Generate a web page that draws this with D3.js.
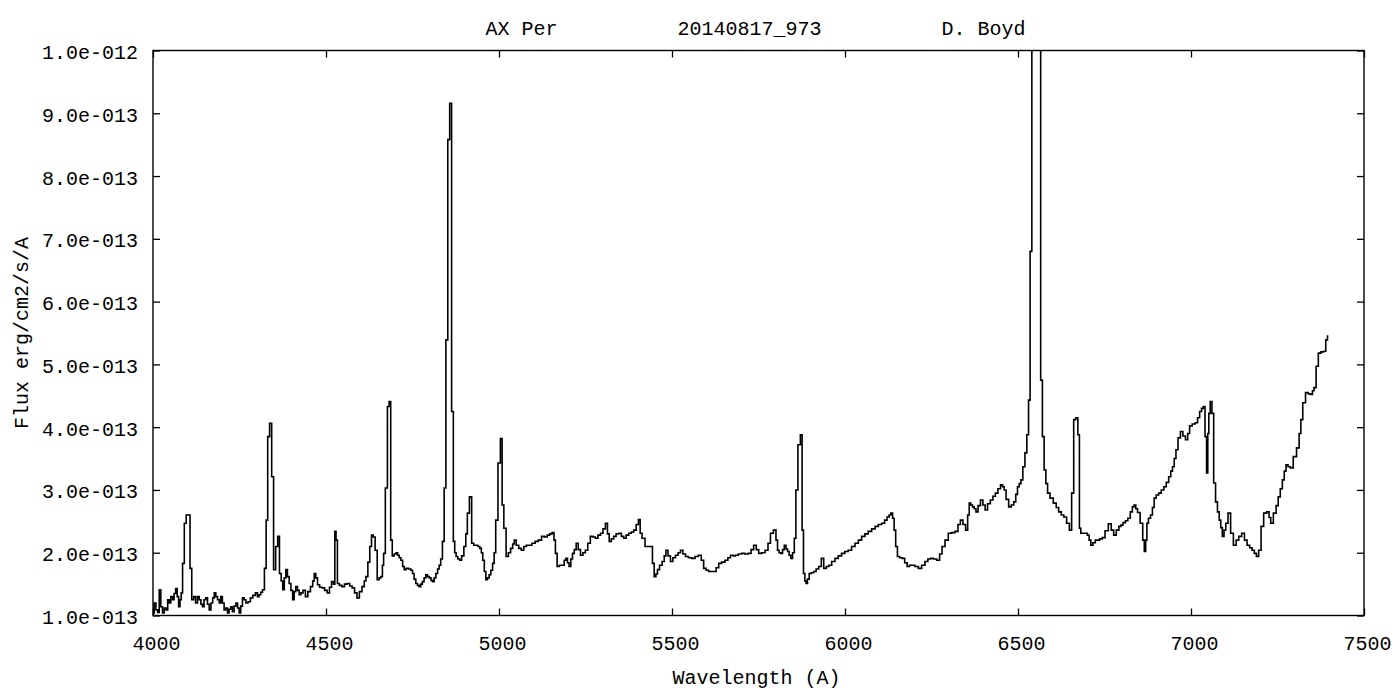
<!DOCTYPE html>
<html>
<head>
<meta charset="utf-8">
<script src="https://cdn.jsdelivr.net/npm/d3@7"></script>
<style>
  html, body { margin: 0; padding: 0; background: #fff; }
  svg { display: block; }
  text { font-family: "Liberation Mono", "DejaVu Sans Mono", monospace; font-size: 20px; fill: #000; }
</style>
</head>
<body>
<svg id="chart" width="1394" height="691"></svg>
<script>
// AX Per spectrum, 2014-08-17 (observer D. Boyd)
// Wavelength in Angstrom, flux in units of 1e-13 erg/cm2/s/A
const wavelength = [
  4001,4006,4011,4016,4020,4025,4030,4035,4040,4045,4049,4054,4059,4063,4068,4072,4076,4080,4083,4088,
  4093,4099,4105,4109,4115,4120,4126,4131,4136,4141,4145,4150,4155,4160,4165,4170,4175,4179,4184,4189,
  4194,4198,4203,4208,4213,4218,4222,4227,4232,4237,4242,4247,4251,4256,4261,4266,4271,4278,4285,4292,
  4300,4304,4309,4314,4319,4325,4329,4334,4340,4346,4351,4358,4363,4368,4373,4377,4382,4386,4391,4396,
  4401,4406,4410,4415,4420,4425,4430,4437,4444,4451,4459,4464,4468,4473,4478,4485,4492,4500,4507,4513,
  4519,4524,4527,4531,4535,4542,4550,4557,4565,4572,4579,4586,4593,4600,4608,4613,4618,4624,4629,4634,
  4639,4645,4651,4656,4661,4665,4668,4675,4680,4685,4689,4694,4700,4705,4709,4714,4719,4724,4728,4735,
  4743,4748,4752,4757,4762,4767,4772,4776,4781,4786,4791,4796,4801,4806,4810,4815,4820,4825,4829,4834,
  4839,4844,4849,4855,4860,4866,4870,4874,4878,4884,4889,4895,4902,4906,4911,4918,4924,4930,4936,4942,
  4947,4951,4955,4960,4964,4969,4974,4979,4984,4988,4993,5001,5007,5011,5017,5024,5030,5037,5042,5046,
  5053,5061,5068,5075,5083,5090,5100,5109,5118,5128,5136,5143,5150,5157,5161,5165,5171,5178,5186,5191,
  5196,5200,5205,5210,5215,5220,5226,5232,5239,5246,5253,5260,5268,5275,5282,5290,5297,5304,5311,5316,
  5321,5328,5335,5342,5350,5357,5364,5371,5379,5386,5393,5400,5406,5410,5417,5427,5436,5441,5446,5451,
  5456,5460,5468,5475,5480,5485,5492,5499,5506,5514,5521,5528,5535,5543,5552,5562,5571,5581,5588,5595,
  5602,5610,5617,5624,5631,5639,5648,5658,5665,5673,5680,5687,5696,5706,5715,5725,5732,5740,5747,5754,
  5764,5774,5781,5788,5798,5803,5807,5812,5817,5822,5827,5832,5836,5841,5846,5851,5856,5860,5868,5874,
  5878,5882,5886,5889,5894,5899,5906,5913,5920,5928,5935,5942,5950,5957,5966,5976,5985,5995,6004,6014,
  6024,6034,6043,6053,6062,6072,6082,6092,6101,6111,6118,6125,6130,6135,6140,6144,6149,6154,6162,6169,
  6176,6183,6190,6197,6207,6217,6226,6236,6243,6251,6260,6270,6277,6284,6294,6303,6313,6323,6330,6337,
  6345,6352,6357,6361,6366,6371,6376,6381,6388,6395,6402,6408,6416,6424,6431,6438,6446,6453,6458,6462,
  6469,6477,6484,6491,6496,6501,6506,6511,6517,6523,6528,6533,6537,6543,6553,6563,6568,6573,6578,6583,
  6588,6597,6607,6614,6621,6629,6636,6645,6652,6658,6664,6670,6676,6679,6684,6689,6698,6703,6708,6713,
  6720,6727,6732,6740,6747,6756,6766,6773,6780,6788,6795,6800,6807,6814,6821,6828,6833,6838,6843,6848,
  6858,6863,6867,6871,6874,6880,6886,6891,6896,6903,6910,6918,6925,6932,6939,6944,6949,6954,6959,6966,
  6973,6980,6988,6993,6999,7008,7016,7022,7028,7033,7038,7043,7047,7050,7053,7058,7063,7068,7074,7079,
  7084,7088,7093,7098,7103,7111,7118,7127,7134,7142,7151,7158,7166,7173,7180,7186,7192,7199,7206,7214,
  7223,7228,7233,7243,7249,7255,7261,7267,7272,7277,7284,7291,7300,7310,7315,7320,7326,7336,7342,7349,
  7353,7358,7365,7371,7380,7387,7392,7397
];
const flux = [
  1.04,1.20,1.09,1.05,1.41,1.14,1.04,1.12,1.09,1.25,1.20,1.30,1.25,1.35,1.43,1.30,1.14,1.25,1.36,1.83,
  2.47,2.60,2.60,1.75,1.25,1.30,1.20,1.30,1.25,1.18,1.14,1.25,1.28,1.18,1.09,1.20,1.28,1.36,1.30,1.25,
  1.20,1.30,1.20,1.09,1.12,1.04,1.10,1.14,1.06,1.15,1.20,1.12,1.04,1.15,1.28,1.25,1.20,1.22,1.28,1.32,
  1.36,1.30,1.33,1.37,1.41,1.75,2.52,3.85,4.06,3.21,1.73,2.10,2.26,1.67,1.55,1.41,1.60,1.73,1.62,1.51,
  1.40,1.25,1.38,1.46,1.40,1.33,1.36,1.40,1.30,1.38,1.46,1.55,1.67,1.60,1.49,1.45,1.44,1.40,1.36,1.45,
  1.54,1.50,2.34,2.20,1.51,1.48,1.46,1.50,1.51,1.47,1.44,1.36,1.28,1.38,1.46,1.55,1.62,1.85,2.10,2.28,
  2.25,2.04,1.57,1.60,1.62,1.80,1.99,3.03,4.33,4.41,2.20,1.95,1.98,2.00,1.96,1.92,1.88,1.78,1.73,1.75,
  1.74,1.72,1.67,1.58,1.51,1.48,1.46,1.50,1.54,1.60,1.65,1.62,1.60,1.56,1.54,1.60,1.67,1.74,1.80,1.90,
  2.18,3.03,5.39,8.58,9.16,4.25,2.18,2.00,1.94,1.90,1.88,1.95,2.10,2.30,2.63,2.89,2.15,2.12,2.12,2.10,
  2.07,2.00,1.88,1.70,1.57,1.60,1.65,1.72,1.83,2.00,2.52,3.43,3.82,2.76,2.39,1.94,2.00,2.07,2.14,2.20,
  2.12,2.07,2.04,2.10,2.12,2.12,2.15,2.18,2.20,2.26,2.25,2.28,2.30,2.32,2.20,1.99,1.78,1.80,1.80,1.88,
  1.91,1.84,1.78,1.90,1.99,2.05,2.15,2.05,1.96,2.00,2.04,2.15,2.26,2.25,2.23,2.28,2.31,2.38,2.47,2.30,
  2.18,2.22,2.26,2.30,2.31,2.26,2.23,2.28,2.31,2.33,2.36,2.45,2.53,2.31,2.23,2.10,2.10,2.10,1.83,1.62,
  1.66,1.73,1.80,1.86,1.95,2.04,1.95,1.86,1.92,1.96,2.00,2.04,1.98,1.94,1.92,1.91,1.94,1.96,1.88,1.75,
  1.72,1.70,1.70,1.70,1.76,1.83,1.85,1.88,1.92,1.96,1.95,1.96,1.98,1.99,1.98,1.99,2.05,2.12,2.05,1.99,
  2.00,2.04,2.15,2.31,2.36,2.20,2.04,2.00,1.99,2.05,2.12,2.06,2.02,1.96,1.91,2.00,2.23,3.00,3.72,3.88,
  2.36,1.67,1.55,1.51,1.58,1.67,1.68,1.70,1.74,1.78,1.91,1.75,1.78,1.80,1.86,1.91,1.95,1.99,2.02,2.04,
  2.10,2.15,2.20,2.26,2.30,2.34,2.38,2.42,2.45,2.47,2.52,2.57,2.60,2.63,2.55,2.36,2.10,1.94,1.92,1.91,
  1.84,1.78,1.80,1.80,1.78,1.75,1.80,1.86,1.90,1.91,1.90,1.88,1.98,2.10,2.20,2.31,2.32,2.34,2.45,2.52,
  2.45,2.36,2.60,2.79,2.76,2.73,2.70,2.65,2.75,2.84,2.76,2.68,2.78,2.84,2.90,2.95,3.02,3.08,3.05,3.00,
  2.85,2.73,2.76,2.81,2.93,3.05,3.10,3.16,3.37,3.59,3.88,4.43,6.80,16.0,24.0,16.0,4.75,3.85,3.32,3.10,
  2.95,2.87,2.79,2.72,2.65,2.60,2.57,2.47,2.36,2.95,4.12,4.15,3.88,2.39,2.31,2.31,2.31,2.28,2.20,2.12,
  2.16,2.20,2.20,2.22,2.24,2.35,2.46,2.36,2.28,2.36,2.42,2.44,2.48,2.51,2.55,2.65,2.73,2.76,2.70,2.64,
  2.47,2.20,2.02,2.20,2.47,2.55,2.60,2.72,2.87,2.92,2.95,3.00,3.05,3.12,3.21,3.30,3.37,3.50,3.64,3.83,
  3.93,3.86,3.80,3.90,4.02,4.05,4.07,4.15,4.25,4.30,4.33,3.85,3.27,3.90,4.22,4.41,4.22,3.11,2.81,2.65,
  2.52,2.40,2.26,2.36,2.47,2.63,2.31,2.12,2.20,2.26,2.31,2.20,2.12,2.08,2.04,1.99,1.94,2.04,2.42,2.63,
  2.65,2.56,2.47,2.63,2.75,2.89,3.02,3.16,3.30,3.40,3.37,3.35,3.53,3.67,3.90,4.12,4.39,4.55,4.53,4.52,
  4.58,4.63,4.97,5.18,5.20,5.21,5.39,5.45
];

const xTicks = [4000, 4500, 5000, 5500, 6000, 6500, 7000, 7500];
const xTickLabels = ["4000", "4500", "5000", "5500", "6000", "6500", "7000", "7500"];
const yTicks = [1, 2, 3, 4, 5, 6, 7, 8, 9, 10];
const yTickLabels = ["1.0e-013", "2.0e-013", "3.0e-013", "4.0e-013", "5.0e-013",
                     "6.0e-013", "7.0e-013", "8.0e-013", "9.0e-013", "1.0e-012"];

const titleParts = ["AX Per", "20140817_973", "D. Boyd"];
const xTitle = "Wavelength (A)";
const yTitle = "Flux erg/cm2/s/A";

const plot = { left: 153, right: 1364, top: 50.5, bottom: 615.5 };

const svg = d3.select("#chart");

const x = d3.scaleLinear().domain([4000, 7500]).range([plot.left, plot.right]);
const y = d3.scaleLinear().domain([1, 10]).range([plot.bottom, plot.top]);

// clip region for the spectrum (H-alpha runs off the top)
svg.append("defs").append("clipPath").attr("id", "plot-clip")
  .append("rect")
  .attr("x", plot.left).attr("y", plot.top)
  .attr("width", plot.right - plot.left).attr("height", plot.bottom - plot.top);

// axes with inward ticks on all four sides
const tickLen = 7;
const axisBottomG = svg.append("g").attr("transform", `translate(0,${plot.bottom})`)
  .call(d3.axisBottom(x).tickValues(xTicks)
    .tickFormat((d, i) => xTickLabels[i])
    .tickSizeInner(-tickLen).tickSizeOuter(0).tickPadding(20.5));
axisBottomG.selectAll("text").attr("dx", "3");

const axisTopG = svg.append("g").attr("transform", `translate(0,${plot.top})`)
  .call(d3.axisTop(x).tickValues(xTicks).tickFormat("")
    .tickSizeInner(-tickLen).tickSizeOuter(0));

const axisLeftG = svg.append("g").attr("transform", `translate(${plot.left},0)`)
  .call(d3.axisLeft(y).tickValues(yTicks)
    .tickFormat((d, i) => yTickLabels[i])
    .tickSizeInner(-tickLen).tickSizeOuter(0).tickPadding(15));
axisLeftG.selectAll("text").attr("dy", "0.4em");

const axisRightG = svg.append("g").attr("transform", `translate(${plot.right},0)`)
  .call(d3.axisRight(y).tickValues(yTicks).tickFormat("")
    .tickSizeInner(-tickLen).tickSizeOuter(0));

[axisBottomG, axisTopG, axisLeftG, axisRightG].forEach(g => {
  g.select(".domain").remove();
  g.selectAll(".tick line").attr("stroke", "#000").attr("stroke-width", 1.3);
  g.selectAll("text")
    .style("font-family", '"Liberation Mono", "DejaVu Sans Mono", monospace')
    .style("font-size", "20px").attr("fill", "#000");
});

// frame
svg.append("rect")
  .attr("x", plot.left).attr("y", plot.top)
  .attr("width", plot.right - plot.left).attr("height", plot.bottom - plot.top)
  .attr("fill", "none").attr("stroke", "#000").attr("stroke-width", 1.4);

// spectrum
const points = wavelength.map((w, i) => [w, flux[i]]);
const line = d3.line().x(d => x(d[0])).y(d => y(d[1])).curve(d3.curveStep);
svg.append("path")
  .datum(points)
  .attr("clip-path", "url(#plot-clip)")
  .attr("d", line)
  .attr("fill", "none")
  .attr("stroke", "#000")
  .attr("stroke-width", 1.6)
  .attr("stroke-linejoin", "miter");

// title: three fields separated by runs of spaces, centred over the plot
const titleText = titleParts.join(" ".repeat(10));
svg.append("text")
  .attr("xml:space", "preserve")
  .style("white-space", "pre")
  .attr("x", (plot.left + plot.right) / 2 - 3)
  .attr("y", 35)
  .attr("text-anchor", "middle")
  .text(titleText);

// axis titles
svg.append("text")
  .attr("x", (plot.left + plot.right) / 2 - 2)
  .attr("y", 684)
  .attr("text-anchor", "middle")
  .text(xTitle);

svg.append("text")
  .attr("transform", `translate(28,${(plot.top + plot.bottom) / 2}) rotate(-90)`)
  .attr("text-anchor", "middle")
  .text(yTitle);
</script>
</body>
</html>
